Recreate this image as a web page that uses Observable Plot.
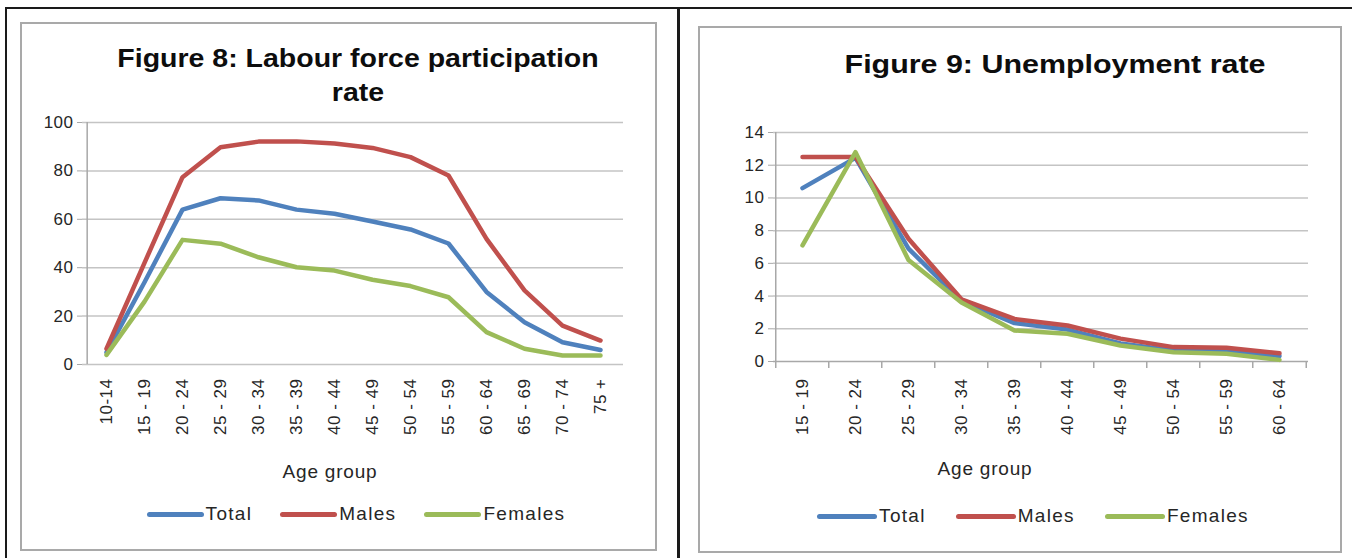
<!DOCTYPE html>
<html>
<head>
<meta charset="utf-8">
<script src="https://cdn.jsdelivr.net/npm/d3@7"></script>
<script src="https://cdn.jsdelivr.net/npm/@observablehq/plot@0.6"></script>
<style>
  body { margin: 0; background: #fff; font-family: "Liberation Sans", Arial, sans-serif; }
  #page { position: relative; width: 1352px; height: 558px; overflow: hidden; background: #fff; }
  .line { position: absolute; background: #1a1a1a; }
  .box { position: absolute; border: 2px solid #a9a9a9; box-sizing: border-box; background: #fff; }
  .title { position: absolute; font-weight: bold; font-size: 25px; line-height: 34px; text-align: center; color: #0d0d0d; white-space: nowrap; transform-origin: 50% 50%; }
  .xlabel { position: absolute; font-size: 19px; letter-spacing: 0.8px; text-align: center; color: #262626; }
  .legend { position: absolute; display: flex; align-items: center; justify-content: center; font-size: 19px; letter-spacing: 1.3px; color: #262626; }
  .item { display: flex; align-items: center; margin: 0 14px; }
  .sw { display: inline-block; width: 57px; height: 5px; border-radius: 3px; margin-right: 2px; }
  #l9 .item { margin: 0 15px; }
  #l9 .sw { width: 60px; }
  .chart { position: absolute; }
</style>
</head>
<body>
<div id="page">
  <div class="line" style="left:5px;top:7px;width:1347px;height:2px"></div>
  <div class="line" style="left:5px;top:7px;width:2px;height:551px"></div>
  <div class="line" style="left:677px;top:7px;width:3px;height:551px"></div>

  <div class="box" style="left:20px;top:22px;width:637px;height:529px"></div>
  <div class="box" style="left:698px;top:26px;width:644px;height:527px"></div>

  <div class="title" id="t8" style="left:58px;top:41px;width:600px;transform:scaleX(1.14)"></div>
  <div class="title" id="t9" style="left:755px;top:47px;width:600px;font-size:26px;transform:scaleX(1.17)"></div>

  <div class="chart" id="c8" style="left:30px;top:110px"></div>
  <div class="chart" id="c9" style="left:700px;top:120px"></div>

  <div class="xlabel" id="a8" style="left:230px;top:461px;width:200px"></div>
  <div class="xlabel" id="a9" style="left:885px;top:458px;width:200px"></div>

  <div class="legend" id="l8" style="left:56px;top:503px;width:600px;height:22px"></div>
  <div class="legend" id="l9" style="left:733px;top:505px;width:600px;height:22px"></div>
</div>
<script>
// ---------- data ----------
const seriesNames = ["Total", "Males", "Females"];
const seriesColors = ["#4F81BD", "#C0504D", "#9BBB59"];

const fig8Title = ["Figure 8: Labour force participation", "rate"];
const fig8Ages = ["10-14", "15 - 19", "20 - 24", "25 - 29", "30 - 34", "35 - 39", "40 - 44",
                  "45 - 49", "50 - 54", "55 - 59", "60 - 64", "65 - 69", "70 - 74", "75 +"];
const fig8Total   = [5, 34, 64, 68.7, 67.8, 64, 62.3, 59.1, 55.8, 50, 30, 17.5, 9.2, 6];
const fig8Males   = [6.5, 42, 77.4, 89.8, 92.1, 92.2, 91.3, 89.5, 85.7, 78.1, 51.9, 30.6, 16.1, 9.9];
const fig8Females = [4, 26, 51.5, 49.9, 44.3, 40.2, 38.8, 35, 32.4, 27.8, 13.4, 6.5, 3.7, 3.7];
const fig8YTicks  = [0, 20, 40, 60, 80, 100];

const fig9Title = ["Figure 9: Unemployment rate"];
const fig9Ages = ["15 - 19", "20 - 24", "25 - 29", "30 - 34", "35 - 39",
                  "40 - 44", "45 - 49", "50 - 54", "55 - 59", "60 - 64"];
const fig9Total   = [10.6, 12.45, 6.9, 3.7, 2.35, 1.95, 1.1, 0.67, 0.67, 0.33];
const fig9Males   = [12.5, 12.5, 7.5, 3.8, 2.6, 2.2, 1.4, 0.88, 0.84, 0.5];
const fig9Females = [7.1, 12.8, 6.2, 3.6, 1.9, 1.7, 0.98, 0.57, 0.47, 0.1];
const fig9YTicks  = [0, 2, 4, 6, 8, 10, 12, 14];

const xAxisTitle = "Age group";

// ---------- helpers ----------
function toRows(ages, total, males, females) {
  const rows = [];
  const vals = [total, males, females];
  seriesNames.forEach((s, k) => ages.forEach((a, i) => rows.push({age: a, series: s, v: vals[k][i]})));
  return rows;
}
const font = "'Liberation Sans', Arial, sans-serif";
const gridStyle = {stroke: "#c4c4c4", strokeOpacity: 1, strokeWidth: 1.5};
const axisStroke = "#a8a8a8";
const tickStyle = {fontSize: "17px", fontFamily: font, color: "#262626", background: "transparent", overflow: "visible", letterSpacing: "0.5px"};

// ---------- Figure 8 ----------
{
  const W = 620, H = 330, mL = 52, mR = 27, mT = 12, mB = 76;
  const step = (W - mL - mR) / fig8Ages.length;
  const p = Plot.plot({
    width: W, height: H, marginLeft: mL, marginRight: mR, marginTop: mT, marginBottom: mB,
    style: tickStyle,
    x: {type: "point", domain: fig8Ages, padding: 0.5, label: null},
    y: {domain: [0, 100], label: null},
    color: {domain: seriesNames, range: seriesColors},
    marks: [
      Plot.gridY(fig8YTicks, gridStyle),
      Plot.ruleX([fig8Ages[0]], {y1: 0, y2: 100, dx: -step / 2, stroke: axisStroke, strokeWidth: 1.5}),
      Plot.axisY(fig8YTicks, {tickSize: 5, tickPadding: 4, stroke: axisStroke, fill: "#262626", label: null}),
      Plot.axisX({tickSize: 0, tickRotate: -90, tickPadding: 14, fill: "#262626", label: null}),
      Plot.line(toRows(fig8Ages, fig8Total, fig8Males, fig8Females),
        {x: "age", y: "v", z: "series", stroke: "series", strokeWidth: 4.5, strokeLinejoin: "round", strokeLinecap: "round"})
    ]
  });
  document.getElementById("c8").appendChild(p);
}

// ---------- Figure 9 ----------
{
  const W = 630, H = 330, mL = 73, mR = 22, mT = 12, mB = 89;
  const step = (W - mL - mR) / fig9Ages.length;
  const p = Plot.plot({
    width: W, height: H, marginLeft: mL, marginRight: mR, marginTop: mT, marginBottom: mB,
    style: tickStyle,
    x: {type: "point", domain: fig9Ages, padding: 0.5, label: null},
    y: {domain: [0, 14], label: null},
    color: {domain: seriesNames, range: seriesColors},
    marks: [
      Plot.gridY(fig9YTicks.slice(1), gridStyle),
      Plot.ruleY([0], {stroke: axisStroke, strokeWidth: 1.5}),
      Plot.ruleX([fig9Ages[0]], {y1: 0, y2: 14, dx: -step / 2, stroke: axisStroke, strokeWidth: 1.5}),
      Plot.ruleX(fig9Ages, {x: d => d, y1: 0, y2: 0, dx: -step / 2, insetBottom: -7, stroke: axisStroke, strokeWidth: 1.5}),
      Plot.ruleX([fig9Ages[fig9Ages.length - 1]], {y1: 0, y2: 0, dx: step / 2, insetBottom: -7, stroke: axisStroke, strokeWidth: 1.5}),
      Plot.axisY(fig9YTicks, {tickSize: 5, tickPadding: 4, stroke: axisStroke, fill: "#262626", label: null}),
      Plot.axisX({tickSize: 0, tickRotate: -90, tickPadding: 17, fill: "#262626", label: null}),
      Plot.line(toRows(fig9Ages, fig9Total, fig9Males, fig9Females),
        {x: "age", y: "v", z: "series", stroke: "series", strokeWidth: 4.5, strokeLinejoin: "round", strokeLinecap: "round"})
    ]
  });
  document.getElementById("c9").appendChild(p);
}

// ---------- titles, axis titles, legends ----------
document.getElementById("t8").innerHTML = fig8Title.join("<br>");
document.getElementById("t9").innerHTML = fig9Title.join("<br>");
document.getElementById("a8").textContent = xAxisTitle;
document.getElementById("a9").textContent = xAxisTitle;
for (const id of ["l8", "l9"]) {
  const el = document.getElementById(id);
  seriesNames.forEach((s, i) => {
    const it = document.createElement("span");
    it.className = "item";
    const sw = document.createElement("span");
    sw.className = "sw";
    sw.style.background = seriesColors[i];
    it.appendChild(sw);
    it.appendChild(document.createTextNode(s));
    el.appendChild(it);
  });
}
</script>
</body>
</html>
